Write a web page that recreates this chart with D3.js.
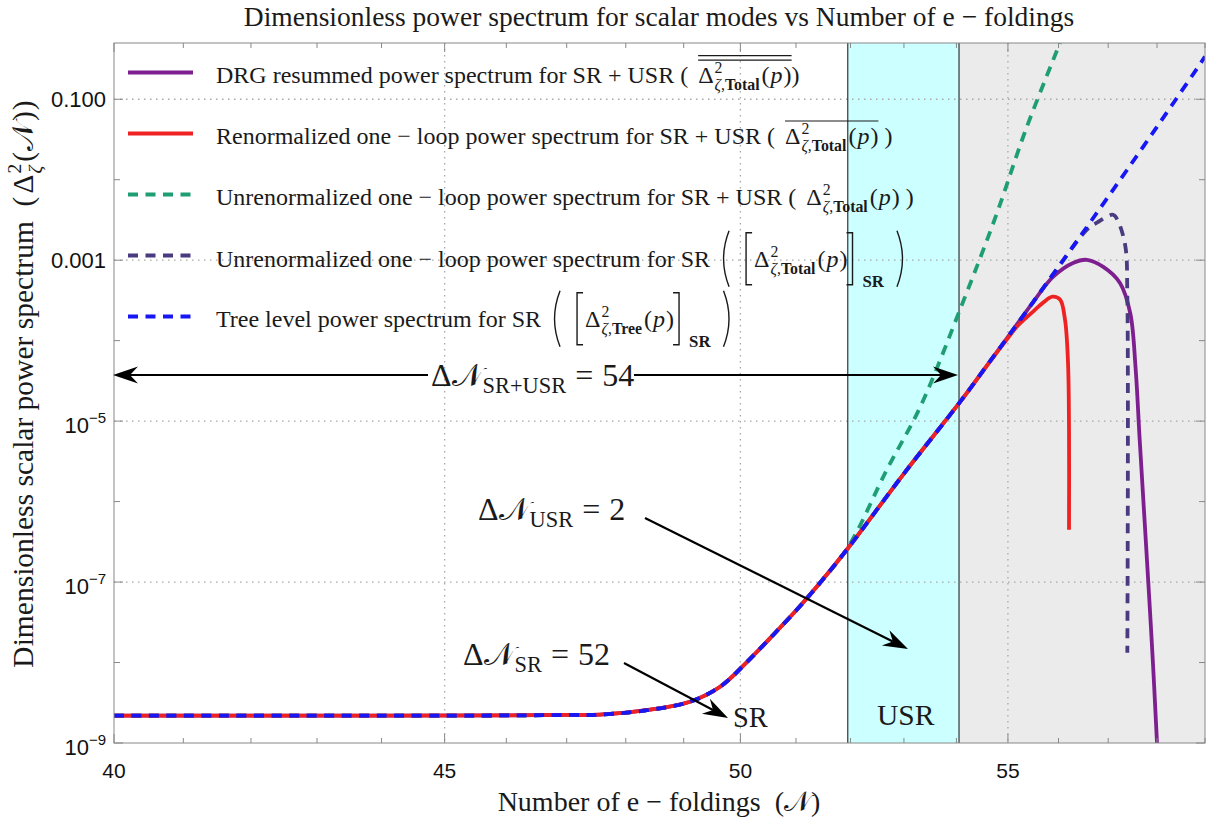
<!DOCTYPE html>
<html>
<head>
<meta charset="utf-8">
<script src="https://cdn.jsdelivr.net/npm/d3@7"></script>
<style>
  body { margin: 0; background: #fff; }
  text { font-family: "Liberation Serif", "Times New Roman", serif; fill: #1a1a1a; white-space: pre; }
  .num { font-family: "Liberation Sans", Arial, sans-serif; fill: #111; }
</style>
</head>
<body>
<svg id="chart" width="1218" height="830"></svg>
<script>
// values: N (e-foldings) and power spectrum
const nTree = [40, 44, 46, 47, 47.56, 48.42, 49.11, 49.64, 50.12, 50.6, 51.08, 51.44, 51.96, 53.0,
               54.07, 54.59, 54.99, 55.5, 56.03, 56.57, 56.98, 57.39, 57.86, 58.34, 58.9, 59.0];
const pTree = [2.19e-9, 2.19e-9, 2.2e-9, 2.23e-9, 2.25e-9, 2.59e-9, 3.26e-9, 5.0e-9, 1.02e-8, 2.25e-8, 5.08e-8, 9.79e-8, 2.67e-7, 2.23e-6,
               1.73e-5, 4.91e-5, 1.09e-4, 3.04e-4, 8.79e-4, 2.59e-3, 5.9e-3, 1.34e-2, 3.44e-2, 8.99e-2, 0.276, 0.339];

// the other curves sit on the tree curve until they split off
const nGreen = [51.96, 52.68, 53.31, 54.12, 54.76, 55.35, 56.03];
const pGreen = [2.75e-7, 2.51e-6, 1.51e-5, 2.95e-4, 3.47e-3, 4.17e-2, 0.5];

const nRed = [54.85, 55.0, 55.17, 55.5, 55.7, 55.88, 56.03, 56.13, 56.19, 56.21, 56.21];
const pRed = [8.13e-5, 1.08e-4, 1.48e-4, 2.31e-4, 2.99e-4, 3.52e-4, 3.24e-4, 1.82e-4, 5.3e-5, 7.76e-6, 4.47e-7];

const nDrg = [55.89, 56.29, 56.57, 56.9, 57.24, 57.45, 57.56, 57.64, 57.73, 57.82, 57.92, 58.0, 58.03];
const pDrg = [6.19e-4, 9.23e-4, 1.01e-3, 8.26e-4, 5.22e-4, 2.19e-4, 4.47e-5, 6.31e-6, 7.94e-7, 1.0e-7, 8.91e-9, 1.0e-9, 5e-10];

const nSR = [56.57, 56.78, 57.1, 57.21, 57.35, 57.39, 57.39];
const pSR = [2.4e-3, 2.95e-3, 3.67e-3, 2.95e-3, 1.48e-3, 3.55e-4, 1.32e-8];

const usrBand = [51.95, 54.05];
const xMajor = [40, 45, 50, 55];
const xMinor = [41, 42, 43, 44, 46, 47, 48, 49, 51, 52, 53, 54, 56, 57, 58, 59];
const yDecades = [1e-9, 1e-8, 1e-7, 1e-6, 1e-5, 1e-4, 1e-3, 1e-2, 1e-1];
const yLabels = [["10", "−9"], null, ["10", "−7"], null, ["10", "−5"], null, ["0.001"], null, ["0.100"]];
const yGrid = [1e-7, 1e-5, 1e-3, 1e-1];

const svg = d3.select("#chart");
const L = 114, R = 1205, T = 43, B = 743;
const x = d3.scaleLog().domain([40, 59]).range([L, R]);
const y = d3.scaleLog().domain([1e-9, 0.5]).range([B, T]);

// helpers for the little bits of math
function put(g, px, py, s, size, o = {}) {
  const t = g.append("text").attr("x", px).attr("y", py).attr("font-size", size).text(s)
    .attr("font-family", o.f || '"Liberation Serif", serif');
  if (o.b) t.attr("font-weight", "bold");
  if (o.i) t.attr("font-style", "italic");
  return t.node().getComputedTextLength();
}
const scriptN = "𝒩";
function delta(g, px, py, fs, word, arg) {
  let cx = px + put(g, px, py, "Δ", fs);
  const ws = put(g, cx + 1, py - 0.42 * fs, "2", 0.66 * fs);
  let sx = cx + 1;
  sx += put(g, sx, py + 0.3 * fs, "ζ", 0.66 * fs, {i: true});
  if (word) {
    sx += put(g, sx, py + 0.3 * fs, ",", 0.66 * fs);
    sx += put(g, sx, py + 0.3 * fs, word, 0.66 * fs, {b: true});
  }
  cx = Math.max(cx + 1 + ws, sx) + 2;
  cx += put(g, cx, py, "(", fs) + 1;
  cx += put(g, cx, py, arg || "p", fs, {i: !arg}) + 1;
  cx += put(g, cx, py, ")", fs);
  return cx;
}
function dN(g, px, py, fs, sub, rest) {
  let cx = px + put(g, px, py, "Δ", fs);
  cx += put(g, cx, py, scriptN, fs);
  cx += put(g, cx, py + 0.22 * fs, sub, 0.7 * fs) + 9;
  cx += put(g, cx, py, "=", fs) + 9;
  return cx + put(g, cx, py, rest, fs);
}
function paren(g, px, py, left) {
  const d = left ? `M${px + 8},${py - 36} Q${px - 3},${py - 8} ${px + 8},${py + 20}`
                 : `M${px},${py - 36} Q${px + 11},${py - 8} ${px},${py + 20}`;
  g.append("path").attr("d", d).attr("fill", "none").attr("stroke", "#1a1a1a").attr("stroke-width", 1.4);
}
function bracket(g, px, py, left) {
  const d = left ? `M${px + 6},${py - 34} H${px} V${py + 18} H${px + 6}`
                 : `M${px - 6},${py - 34} H${px} V${py + 18} H${px - 6}`;
  g.append("path").attr("d", d).attr("fill", "none").attr("stroke", "#1a1a1a").attr("stroke-width", 1.4);
}
function arrow(g, x1, y1, x2, y2) {
  const a = Math.atan2(y2 - y1, x2 - x1), ux = Math.cos(a), uy = Math.sin(a);
  const len = 25, w = 8.5, notch = 17;
  g.append("line").attr("x1", x1).attr("y1", y1)
    .attr("x2", x2 - notch * ux).attr("y2", y2 - notch * uy)
    .attr("stroke", "#000").attr("stroke-width", 2.2);
  const pts = [[x2, y2],
    [x2 - len * ux - w * uy, y2 - len * uy + w * ux],
    [x2 - notch * ux, y2 - notch * uy],
    [x2 - len * ux + w * uy, y2 - len * uy - w * ux]];
  g.append("path").attr("d", "M" + pts.join("L") + "Z").attr("fill", "#000");
}

// shaded regions
svg.append("rect").attr("x", x(usrBand[0])).attr("y", T).attr("width", x(usrBand[1]) - x(usrBand[0]))
  .attr("height", B - T).attr("fill", "#ccffff");
svg.append("rect").attr("x", x(usrBand[1])).attr("y", T).attr("width", R - x(usrBand[1]))
  .attr("height", B - T).attr("fill", "#ebebeb");

// grid
const grid = svg.append("g").attr("stroke", "#a8a8a8").attr("stroke-width", 1.3).attr("stroke-dasharray", "1.5,4.5");
grid.selectAll(".gx").data(xMajor.slice(1)).enter().append("line")
  .attr("x1", d => x(d)).attr("x2", d => x(d)).attr("y1", T).attr("y2", B);
grid.selectAll(".gy").data(yGrid).enter().append("line")
  .attr("x1", L).attr("x2", R).attr("y1", d => y(d)).attr("y2", d => y(d));

svg.selectAll(".band").data(usrBand).enter().append("line")
  .attr("x1", d => x(d)).attr("x2", d => x(d)).attr("y1", T).attr("y2", B)
  .attr("stroke", "#222").attr("stroke-width", 1.1);

// curves
function joinTree(nTail, pTail) {
  const pts = [];
  nTree.forEach((n, i) => { if (n < nTail[0]) pts.push([n, pTree[i]]); });
  nTail.forEach((n, i) => pts.push([n, pTail[i]]));
  return pts;
}
const series = [
  {pts: joinTree(nDrg, pDrg), color: "#7e1f8f", dash: null},
  {pts: joinTree(nGreen, pGreen), color: "#1f9e74", dash: "10,7.5"},
  {pts: joinTree(nSR, pSR), color: "#4a3a80", dash: "10,7.5"},
  {pts: joinTree(nRed, pRed), color: "#ee2222", dash: null},
  {pts: nTree.map((n, i) => [n, pTree[i]]), color: "#1717f5", dash: "10,7.5"}
];
svg.append("clipPath").attr("id", "clip").append("rect")
  .attr("x", L).attr("y", T).attr("width", R - L).attr("height", B - T);
const line = d3.line().x(d => x(d[0])).y(d => y(d[1])).curve(d3.curveCatmullRom.alpha(0.5));
svg.append("g").attr("clip-path", "url(#clip)").selectAll("path").data(series).enter().append("path")
  .attr("d", d => line(d.pts)).attr("fill", "none").attr("stroke", d => d.color)
  .attr("stroke-width", 3.8).attr("stroke-dasharray", d => d.dash);

// frame and ticks
const fr = svg.append("g").attr("stroke", "#888").attr("stroke-width", 1);
fr.append("rect").attr("x", L).attr("y", T).attr("width", R - L).attr("height", B - T).attr("fill", "none");
xMajor.concat(xMinor).forEach(v => {
  const h = xMajor.includes(v) ? 9 : 5;
  fr.append("line").attr("x1", x(v)).attr("x2", x(v)).attr("y1", B).attr("y2", B - h);
  fr.append("line").attr("x1", x(v)).attr("x2", x(v)).attr("y1", T).attr("y2", T + h);
});
yDecades.forEach((v, i) => {
  const h = yLabels[i] ? 9 : 6;
  fr.append("line").attr("x1", L).attr("x2", L + h).attr("y1", y(v)).attr("y2", y(v));
  fr.append("line").attr("x1", R).attr("x2", R - h).attr("y1", y(v)).attr("y2", y(v));
});

svg.selectAll(".xl").data(xMajor).enter().append("text").attr("class", "num")
  .attr("x", d => x(d)).attr("y", 778).attr("text-anchor", "middle").attr("font-size", 21).text(d => d);
yDecades.forEach((v, i) => {
  const lab = yLabels[i];
  if (!lab) return;
  const t = svg.append("text").attr("class", "num").attr("x", 106).attr("text-anchor", "end")
    .attr("font-size", 22).attr("y", y(v) + (lab.length > 1 ? 12 : 8)).text(lab[0]);
  if (lab.length > 1) t.append("tspan").attr("dy", -10).attr("font-size", 15).text(lab[1]);
});

// titles
svg.append("text").attr("x", 659).attr("y", 26).attr("text-anchor", "middle").attr("font-size", 27.5)
  .text("Dimensionless power spectrum for scalar modes vs Number of e − foldings");
const xl = svg.append("g");
let xe = put(xl, 0, 0, "Number of e − foldings  (", 28);
xe += put(xl, xe, 0, scriptN, 28);
xe += put(xl, xe, 0, ")", 28);
xl.attr("transform", `translate(${659 - xe / 2},811)`);

const yl = svg.append("g");
let ye = put(yl, 0, 0, "Dimensionless scalar power spectrum  (", 29.5) + 3;
ye = delta(yl, ye, 0, 29.5, null, scriptN);
ye += put(yl, ye + 1, 0, ")", 29.5) + 1;
yl.attr("transform", `translate(33,${384 + ye / 2}) rotate(-90)`);

// legend
const lg = svg.append("g");
const rows = [72.5, 133.5, 194.5, 255.5, 316.5];
const legOrder = [0, 3, 1, 2, 4];
legOrder.forEach((k, i) => {
  lg.append("line").attr("x1", 128).attr("x2", 193).attr("y1", rows[i]).attr("y2", rows[i])
    .attr("stroke", series[k].color).attr("stroke-width", 3.8).attr("stroke-dasharray", series[k].dash);
});
const fs = 24;
function overline(yy, a, b) {
  lg.append("line").attr("x1", a).attr("x2", b).attr("y1", yy).attr("y2", yy)
    .attr("stroke", "#1a1a1a").attr("stroke-width", 1.2);
}
let by = 82.7, cx = 216;
cx += put(lg, cx, by, "DRG resummed power spectrum for SR + USR ( ", fs) + 4;
let st = cx;
cx = delta(lg, cx, by, fs, "Total");
overline(by - 27, st, cx);
overline(by - 22.5, st, cx);
put(lg, cx, by, ")", fs);

by = 144; cx = 216;
cx += put(lg, cx, by, "Renormalized one − loop power spectrum for SR + USR ( ", fs) + 4;
st = cx;
cx = delta(lg, cx, by, fs, "Total");
overline(by - 23, st, cx);
put(lg, cx, by, " )", fs);

by = 205; cx = 216;
cx += put(lg, cx, by, "Unrenormalized one − loop power spectrum for SR + USR ( ", fs) + 4;
cx = delta(lg, cx, by, fs, "Total");
put(lg, cx, by, " )", fs);

[[266.7, "Unrenormalized one − loop power spectrum for SR", "Total"],
 [326.7, "Tree level power spectrum for SR", "Tree"]].forEach(([yy, txt, w]) => {
  let c = 216 + put(lg, 216, yy, txt, fs) + 11;
  paren(lg, c, yy, true); c += 25;
  bracket(lg, c, yy, true); c += 8;
  c = delta(lg, c, yy, fs, w) + 5;
  bracket(lg, c, yy, false); c += 10;
  c += put(lg, c, yy + 20, "SR", 0.7 * fs, {b: true}) + 13;
  paren(lg, c, yy, false);
});

// annotations
const an = svg.append("g");
arrow(an, 428, 375, 113, 375);
arrow(an, 634, 375, 958, 375);
dN(an, 431, 386, 32, "SR+USR", "54");
dN(an, 478, 520, 32, "USR", "2");
arrow(an, 645, 518, 908, 649);
dN(an, 463, 665, 32, "SR", "52");
arrow(an, 624, 663, 728, 718);
put(an, 733, 727, "SR", 28.5);
put(an, 877, 725, "USR", 29.5);
</script>
</body>
</html>
